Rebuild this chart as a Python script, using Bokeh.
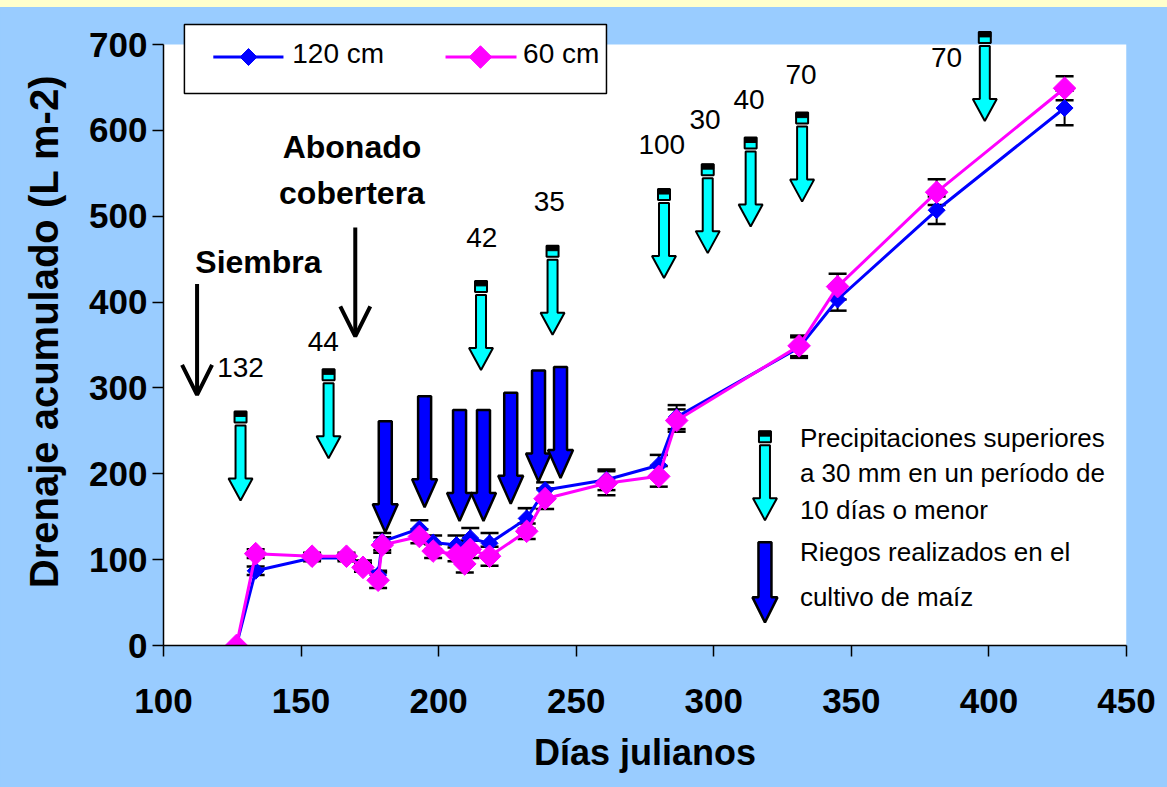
import numpy as np
from bokeh.plotting import figure
from bokeh.models import (ColumnDataSource, Whisker, TeeHead, Label, Arrow, OpenHead,
                          PolyAnnotation, FixedTicker, BoxAnnotation)
from bokeh.embed import file_html
from bokeh.resources import INLINE

# ---------------- data ----------------
days = [126.5, 133.5, 154.0, 166.5, 172.5, 178.0, 179.5, 193.0, 198.0, 206.5, 209.5,
        211.5, 218.5, 232.0, 238.7, 261.0, 280.0, 286.5, 331.0, 345.0, 381.0, 427.5]
drain_120 = [0, 87, 102, 102, 94, 82, 121, 136, 120, 117, 113, 125, 119, 148, 181, 193,
             210, 266, 347, 403, 507, 626]
drain_60 = [0, 107, 104, 104, 91, 76, 117, 127, 110, 106, 95, 112, 104, 133, 171, 189,
            197, 262, 349, 418, 528, 649]
err_120 = [0, 5, 4, 4, 5, 5, 10, 10, 8, 11, 9, 12, 12, 12, 9, 12, 12, 14, 12, 13, 16, 20]
err_60 = [0, 5, 4, 4, 5, 9, 9, 8, 8, 8, 10, 10, 11, 9, 12, 14, 12, 13, 12, 15, 15, 14]
series_names = ["120 cm", "60 cm"]

# rain events (> 30 mm in <= 10 days): arrow position, arrow tip value, label
rain_day = [128.0, 160.0, 215.4, 241.4, 281.9, 297.8, 313.4, 332.1, 398.5]
rain_tip = [169, 218, 321, 362, 428, 457, 488, 517, 611]
rain_mm = ["132", "44", "42", "35", "100", "30", "40", "70", "70"]
rain_label_day = [128.0, 158.1, 215.7, 240.2, 281.1, 296.8, 312.8, 331.7, 384.6]
rain_label_val = [324, 354, 475, 517, 583, 613, 636, 665, 685]

# irrigation events
irrig_day = [180.6, 194.9, 207.6, 216.3, 226.2, 236.3, 244.3]
irrig_tip = [132, 161, 145, 145, 165, 191, 195]

# management events
event_names = ["Siembra", "Abonado", "cobertera"]
event_label_day = [134.5, 168.5, 168.5]
event_label_val = [447, 581, 527]
event_day = [112.2, 169.7]
event_top = [421, 487]
event_tip = [292, 360]

x_ticks = [100, 150, 200, 250, 300, 350, 400, 450]
y_ticks = [0, 100, 200, 300, 400, 500, 600, 700]

key_day = 318.6
key_rain_tip = 146
key_irrig_tip = 27
key_text = ["Precipitaciones superiores", "a 30 mm en un período de", "10 días o menor",
            "Riegos realizados en el", "cultivo de maíz"]
key_text_val = [241.5, 200.7, 157.5, 108.9, 56.4]
key_text_day = 331.3

# ---------------- figure ----------------
FONT = "Liberation Sans"
BLUE_BG = "#99CCFF"
C_BLUE = "#0000FF"
C_PINK = "#FF00FF"
C_CYAN = "#00FFFF"
FW = 963
PX = 350 / FW    # data units per pixel (x)
PY = 700 / 601   # data units per pixel (y)
Y_MAX = 628 * PY  # frame reaches a little above 700 (legend box, last rain mark)

p = figure(width=1167, height=780, x_range=(100, 450), y_range=(0, Y_MAX),
           output_backend="svg", toolbar_location=None,
           min_border_left=163, min_border_right=41, min_border_top=10, min_border_bottom=142,
           background_fill_color=BLUE_BG, border_fill_color=BLUE_BG, outline_line_color=None)
p.grid.visible = False

# white plotting area 0..700
p.add_layout(BoxAnnotation(left=100, right=450, bottom=0, top=700, fill_color="white",
                           fill_alpha=1, line_color=None, level="underlay"))

for ax in (p.xaxis[0], p.yaxis[0]):
    ax.axis_line_width = 1.5
    ax.axis_line_color = "black"
    ax.major_tick_line_color = "black"
    ax.major_tick_line_width = 1.5
    ax.major_tick_in = 0
    ax.major_tick_out = 11
    ax.minor_tick_line_color = None
    ax.major_label_text_font = FONT
    ax.major_label_text_font_size = "35px"
    ax.major_label_text_font_style = "bold"
    ax.major_label_text_color = "black"
    ax.axis_label_text_font = FONT
    ax.axis_label_text_font_style = "bold"
    ax.axis_label_text_color = "black"

p.xaxis.ticker = FixedTicker(ticks=x_ticks)
p.yaxis.ticker = FixedTicker(ticks=y_ticks)
p.yaxis.bounds = (0, 700)
p.xaxis.axis_label = "Días julianos"
p.yaxis.axis_label = "Drenaje acumulado (L m-2)"
p.xaxis.axis_label_text_font_size = "36px"
p.yaxis.axis_label_text_font_size = "40px"
p.xaxis.major_label_standoff = 32
p.yaxis.major_label_standoff = 5
p.xaxis.axis_label_standoff = 16
p.yaxis.axis_label_standoff = 20


def down_arrow(x, tip, length_px, shaft_hw, head_hw, head_h):
    top = tip + length_px * PY
    neck = tip + head_h * PY
    xs = [x - shaft_hw * PX, x + shaft_hw * PX, x + shaft_hw * PX, x + head_hw * PX, x,
          x - head_hw * PX, x - shaft_hw * PX]
    ys = [top, top, neck, neck, tip, neck, neck]
    return xs, ys


# ---------------- series ----------------
def add_series(vals, errs, color, size):
    bx = [d for d, e in zip(days, errs) if e > 0]
    lo = [v - e for v, e in zip(vals, errs) if e > 0]
    hi = [v + e for v, e in zip(vals, errs) if e > 0]
    src = ColumnDataSource(dict(x=bx, lo=lo, hi=hi))
    w = Whisker(source=src, base="x", lower="lo", upper="hi", dimension="height",
                line_color="black", line_width=2,
                upper_head=TeeHead(size=18, line_color="black", line_width=2.5),
                lower_head=TeeHead(size=18, line_color="black", line_width=2.5))
    p.add_layout(w)
    p.line(days, vals, line_color=color, line_width=3)
    p.scatter(days, vals, marker="square", angle=np.pi / 4, size=size,
              fill_color=color, line_color=color)


add_series(drain_120, err_120, C_BLUE, 12)
add_series(drain_60, err_60, C_PINK, 16)

# ---------------- rain arrows ----------------
c_xs, c_ys = [], []
for d, t in zip(rain_day + [key_day], rain_tip + [key_rain_tip]):
    xs, ys = down_arrow(d, t, 75, 5, 12, 22)
    c_xs.append(xs)
    c_ys.append(ys)
    top = t + 89 * PY
    p.add_layout(PolyAnnotation(xs=[d - 6 * PX, d + 6 * PX, d + 6 * PX, d - 6 * PX],
                                ys=[top, top, top - 11 * PY, top - 11 * PY],
                                fill_color=C_CYAN, fill_alpha=1, line_color="black",
                                line_alpha=1, line_width=2))
    p.add_layout(PolyAnnotation(xs=[d - 6 * PX, d + 6 * PX, d + 6 * PX, d - 6 * PX],
                                ys=[top, top, top - 5 * PY, top - 5 * PY],
                                fill_color="black", fill_alpha=1, line_color="black",
                                line_alpha=1, line_width=1))
p.patches(c_xs, c_ys, fill_color=C_CYAN, line_color="black", line_width=2)

for d, v, t in zip(rain_label_day, rain_label_val, rain_mm):
    p.add_layout(Label(x=d, y=v, text=t, text_font=FONT, text_font_size="28px",
                       text_align="center", text_baseline="middle", text_color="black"))

# ---------------- irrigation arrows ----------------
b_xs, b_ys = [], []
for d, t in zip(irrig_day, irrig_tip):
    xs, ys = down_arrow(d, t, 111, 6.5, 12.5, 28)
    b_xs.append(xs)
    b_ys.append(ys)
xs, ys = down_arrow(key_day, key_irrig_tip, 80, 6.5, 12.5, 25)
b_xs.append(xs)
b_ys.append(ys)
p.patches(b_xs, b_ys, fill_color=C_BLUE, line_color="black", line_width=2.5)

# ---------------- management events ----------------
for d, t0, t1 in zip(event_day, event_top, event_tip):
    p.add_layout(Arrow(x_start=d, y_start=t0, x_end=d, y_end=t1, line_width=4,
                       line_color="black",
                       end=OpenHead(size=30, line_width=4, line_color="black")))

for t, d, v in zip(event_names, event_label_day, event_label_val):
    p.add_layout(Label(x=d, y=v, text=t, text_font=FONT, text_font_size="32px",
                       text_font_style="bold", text_align="center",
                       text_baseline="middle", text_color="black"))

# ---------------- key texts ----------------
for t, v in zip(key_text, key_text_val):
    p.add_layout(Label(x=key_text_day, y=v, text=t, text_font=FONT, text_font_size="26px",
                       text_align="left", text_baseline="middle", text_color="black"))

# ---------------- series legend (drawn by hand: rotated-square markers) ----------------
p.quad(left=[107.6], right=[261.0], bottom=[642.9], top=[723.3], fill_color="white",
       line_color="black", line_width=1.5)
leg_y = 685.4
leg_entries = [(118.1, 143.6, 130.9, 146.8, C_BLUE, 12),
               (202.5, 228.3, 215.2, 230.7, C_PINK, 16)]
for name, (x0, x1, xm, xt, color, size) in zip(series_names, leg_entries):
    p.line([x0, x1], [leg_y, leg_y], line_color=color, line_width=3)
    p.scatter([xm], [leg_y], marker="square", angle=np.pi / 4, size=size,
              fill_color=color, line_color=color)
    p.add_layout(Label(x=xt, y=leg_y + 4, text=name, text_font=FONT, text_font_size="28px",
                       text_align="left", text_baseline="middle", text_color="black"))

style = ("<style>html{background:#FFFFCC;overflow:hidden;}"
         "body{margin:7px 0 0 0 !important;padding:0 !important;background:#99CCFF;"
         "height:auto !important;}</style>")
open("out.html", "w").write(file_html(p, INLINE).replace("</head>", style + "</head>", 1))
